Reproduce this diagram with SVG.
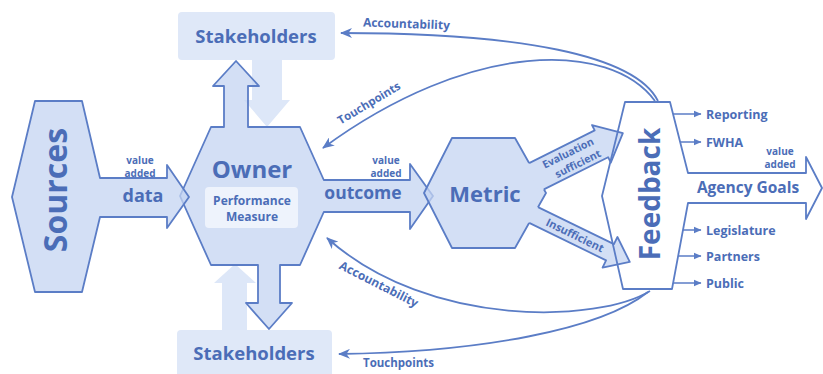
<svg xmlns="http://www.w3.org/2000/svg" width="823" height="374" viewBox="0 0 823 374">
<style>
.t{font-family:"Open Sans","Liberation Sans",sans-serif;font-weight:700;fill:#4b6db7}
.m{text-anchor:middle}
.shape{fill:#c4d4f2;fill-opacity:.75;stroke:#5b7dc6;stroke-width:1.8;stroke-linejoin:round}
.solid{fill:#d3dff5;stroke:none}
.edge{fill:none;stroke:#5b7dc6;stroke-width:1.8;stroke-linejoin:round}
.light{fill:#dde7f8}
.box{fill:#dfe8f8}
.conn{fill:none;stroke:#5b7dc6;stroke-width:1.8}
.small{fill:none;stroke:#5b7dc6;stroke-width:1.5}
.va{font-size:10px}
</style>
<defs>
<marker id="ah" viewBox="0 0 12 10" refX="11" refY="5" markerWidth="12" markerHeight="10" markerUnits="userSpaceOnUse" orient="auto">
<path d="M0,0 L12,5 L0,10 L3.5,5 z" fill="#5b7dc6"/>
</marker>
<marker id="sh" viewBox="0 0 8 8" refX="7.5" refY="4" markerWidth="8" markerHeight="8" markerUnits="userSpaceOnUse" orient="auto">
<path d="M0,0.5 L8,4 L0,7.5 z" fill="#5b7dc6"/>
</marker>
</defs>
<rect width="823" height="374" fill="#fff"/>

<g id="connectors-back">
<polygon class="light" points="252,60 282,60 282,100 290,100 267,127 244,100 252,100"/>
<polygon class="light" points="222,332 222,283 214,283 235,264 256,283 247,283 247,332"/>
</g>

<g id="stakeholders-top">
<rect class="box" x="178" y="12" width="157" height="48" rx="4"/>
<text class="t m" x="256" y="43" font-size="18.5">Stakeholders</text>
</g>
<g id="stakeholders-bottom">
<rect class="box" x="177" y="330" width="155" height="50" rx="4"/>
<text class="t m" x="254" y="360" font-size="18.5">Stakeholders</text>
</g>

<g id="owner">
<polygon class="shape" points="211,127 224,127 224,86 213,86 236,61 259,86 248,86 248,127 300,127 323.8,180 410,180 410,164 433,196 410,229 410,212 323.8,212 300,265 280,265 280,303 292,303 269,329 246,303 258,303 258,265 211,265 180,196"/>
<rect x="205" y="187" width="93" height="41" rx="4" fill="#eef3fc"/>
<text class="t m" x="252" y="178" font-size="24">Owner</text>
<text class="t m" x="252" y="205" font-size="12">Performance</text>
<text class="t m" x="252" y="221" font-size="12">Measure</text>
<text class="t m va" x="386" y="164">value</text>
<text class="t m va" x="386" y="177">added</text>
<text class="t m" x="363" y="199" font-size="17.5">outcome</text>
</g>

<g id="sources">
<polygon class="shape" points="35,101 82,101 100,178 167,178 167,165 189,197 167,228 167,217 100,217 82,292 35,292 12,197"/>
<text class="t m" x="67" y="190" font-size="32" transform="rotate(-90 67 190)">Sources</text>
<text class="t m va" x="140" y="164">value</text>
<text class="t m va" x="140" y="177">added</text>
<text class="t m" x="143" y="202" font-size="18">data</text>
</g>

<g id="metric">
<polygon class="shape" points="452,138 515,138 546,193 515,248 452,248 424,193"/>
<text class="t m" x="485" y="202" font-size="22">Metric</text>
</g>

<g id="connectors">
<path class="conn" marker-end="url(#ah)" d="M658,101 C635,55 520,33 341,33"/>
<path class="conn" marker-end="url(#ah)" d="M655,101 C610,40 470,40 323,148"/>
<path class="conn" marker-end="url(#ah)" d="M650,291 C600,322 430,330 327,238"/>
<path class="conn" marker-end="url(#ah)" d="M648,292 C600,330 480,352 339,354"/>
<text class="t" x="363" y="28" font-size="12" transform="rotate(2 408 25)">Accountability</text>
<text class="t m" x="371" y="106.5" font-size="11.5" transform="rotate(-31 371 106.5)">Touchpoints</text>
<text class="t m" x="377" y="288" font-size="12" transform="rotate(27 377 288)">Accountability</text>
<text class="t" x="363" y="367" font-size="11.5">Touchpoints</text>

<g transform="translate(537 176) rotate(-26.57)">
<polygon class="solid" points="-5,-15 72,-15 72,-21 96,0 72,21 72,15 -5,15"/>
<polyline class="edge" points="-1.3,-15 72,-15 72,-21 96,0 72,21 72,15 0.2,15"/>
<text class="t m" x="38" y="-3" font-size="10.5">Evaluation</text>
<text class="t m" x="42" y="11" font-size="10.5">sufficient</text>
</g>
<g transform="translate(533.6 215) rotate(26)">
<polygon class="solid" points="-5,-9 85,-9 85,-17 107,0 85,17 85,9 -5,9"/>
<polyline class="edge" points="0.5,-9 85,-9 85,-17 107,0 85,17 85,9 -0.5,9"/>
<text class="t m" x="46" y="4" font-size="11">Insufficient</text>
</g>

<line class="small" marker-end="url(#sh)" x1="673" y1="114" x2="701" y2="114"/>
<line class="small" marker-end="url(#sh)" x1="680" y1="142" x2="701" y2="142"/>
<line class="small" marker-end="url(#sh)" x1="683" y1="230" x2="701" y2="230"/>
<line class="small" marker-end="url(#sh)" x1="678" y1="256" x2="701" y2="256"/>
<line class="small" marker-end="url(#sh)" x1="673" y1="283" x2="701" y2="283"/>
</g>

<g id="feedback">
<polygon points="625,102 670,102 688,173 806,173 806,157 822,188 806,219 806,203 688,203 672,289 623,289 602,196" fill="none" stroke="#5b7dc6" stroke-width="1.8" stroke-linejoin="round"/>
<text class="t m" x="660" y="194" font-size="28" transform="rotate(-90 660 194)">Feedback</text>
<text class="t m" x="748" y="193" font-size="15.5">Agency Goals</text>
<text class="t m va" x="780" y="155">value</text>
<text class="t m va" x="780" y="168">added</text>
<text class="t" x="706" y="119" font-size="12.5">Reporting</text>
<text class="t" x="706" y="147" font-size="12.5">FWHA</text>
<text class="t" x="706" y="235" font-size="12.5">Legislature</text>
<text class="t" x="706" y="261" font-size="12.5">Partners</text>
<text class="t" x="706" y="288" font-size="12.5">Public</text>
</g>
</svg>
